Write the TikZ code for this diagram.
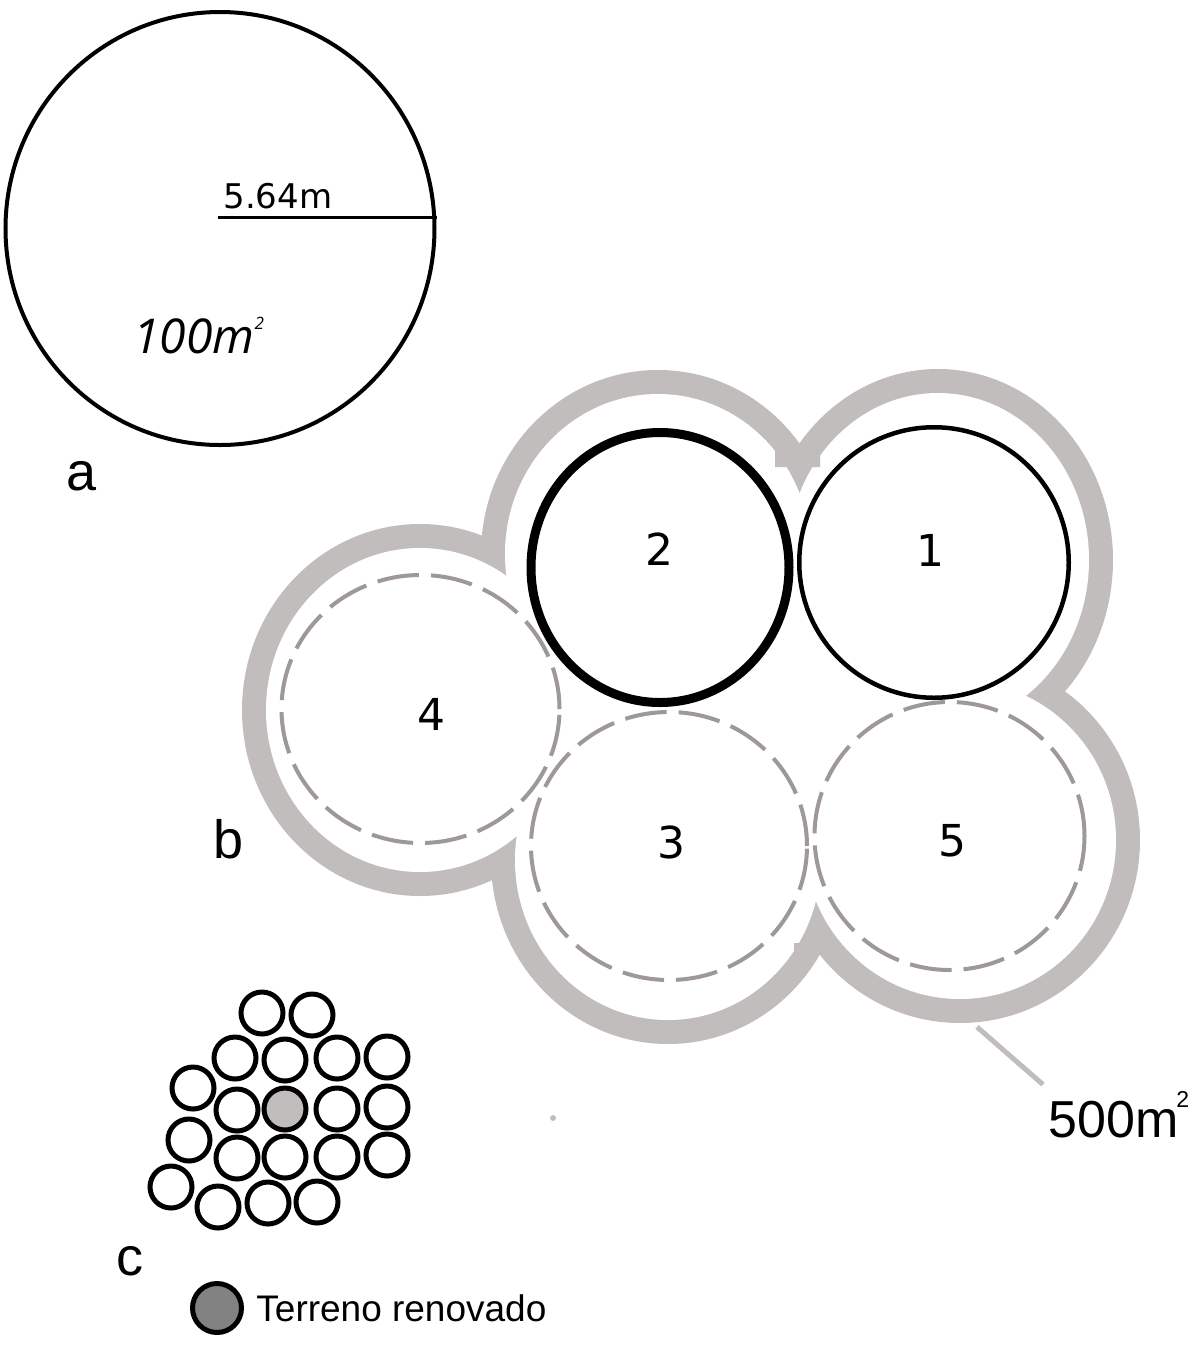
\documentclass[tikz,border=0pt]{standalone}
\usepackage{fontspec}
\setmainfont{Liberation Sans}
\newfontfamily\numfont{DejaVu Sans}
\newfontfamily\areafont{Open Sans}
\usepackage{xcolor}
\definecolor{ringgrey}{RGB}{193,189,189}
\definecolor{dashgrey}{RGB}{158,152,152}
\definecolor{newgrey}{RGB}{130,130,130}
\usepackage{tikz}
\usetikzlibrary{shapes.geometric, positioning}
\tikzset{
  plot/.style={
    ellipse, draw=black, inner sep=0pt
  },
  future/.style={
    ellipse, draw=dashgrey, line width=2pt,
    dash pattern=on 21pt off 6pt, inner sep=0pt
  },
  lot/.style={
    circle, draw=black, line width=2.5pt, fill=white,
    minimum size=21pt, inner sep=0pt
  },
  num/.style={font=\numfont\fontsize{22}{22}\selectfont, inner sep=0pt},
  tag/.style={anchor=base west, inner sep=0pt, font=\fontsize{27}{27}\selectfont},
  leader/.style={draw=ringgrey, line width=2.5pt},
}

\begin{document}
\begin{tikzpicture}[x=0.5pt, y=-0.5pt]
  \useasboundingbox (0,0) rectangle (1204,1346);

  % a
  \node (big) [plot, line width=2pt, minimum width=214.5pt, minimum height=216.5pt] at (220,228.5) {};
  \coordinate (mid) at (218,217);
  \draw [line width=1.5pt] (mid) -- (mid -| big.east);
  \node (radius) [anchor=base west, inner sep=0pt, font=\numfont\fontsize{17}{17}\selectfont] at (223,208) {5.64m};
  \node (small) [anchor=base west, inner sep=0pt, font=\areafont\itshape\fontsize{24}{24}\selectfont] at (133,353)
    {100m\raisebox{12pt}{\fontsize{8.5}{8.5}\selectfont 2}};
  \node (la) [tag] at (66,490) {a};

  % b
  \foreach \cx/\cy/\rx/\ry in {658/554/165/172, 938/560/163/179, 960/840/168/171, 668/860/165/172, 420/710/166/174}
    \fill [ringgrey] (\cx,\cy) ellipse [x radius={(\rx+12)*0.5pt}, y radius={(\ry+12)*0.5pt}];
  \foreach \cx/\cy/\rx/\ry in {658/554/165/172, 938/560/163/179, 960/840/168/171, 668/860/165/172, 420/710/166/174}
    \fill [white] (\cx,\cy) ellipse [x radius={(\rx-12)*0.5pt}, y radius={(\ry-12)*0.5pt}];
  \fill [white] (658,554) -- (938,560) -- (960,840) -- (668,860) -- (420,710) -- cycle;
  \fill [ringgrey] (775,440) -- (797,446) -- (820,440) -- (820,467) -- (775,467) -- cycle;
  \fill [ringgrey] (794,970) -- (820,952) -- (838,958) -- (838,943) -- (794,943) -- cycle;

  \node (p4) [future, minimum width=139pt, minimum height=134pt] at (420.5,709) {};
  \node (p3) [future, minimum width=138pt, minimum height=134pt] at (669,846) {};
  \node (p5) [future, minimum width=135pt, minimum height=134pt] at (949.5,836) {};
  \node (p2) [plot, line width=4.5pt, minimum width=129pt, minimum height=135pt] at (660,567.5) {};
  \node (p1) [plot, line width=2.25pt, minimum width=134.75pt, minimum height=135.25pt] at (934,562.5) {};

  \node (n1) [num] at (930,550) {1};
  \node (n2) [num] at (659,549) {2};
  \node (n3) [num] at (671,842) {3};
  \node (n4) [num] at (431,714) {4};
  \node (n5) [num] at (952,841) {5};
  \node (lb) [tag] at (213,858) {b};

  \coordinate (edge) at (977,1027);
  \node (area) [anchor=base west, inner sep=0pt, font=\fontsize{26}{26}\selectfont] at (1048,1137)
    {500m\kern-1pt\raisebox{15pt}{\fontsize{11.5}{11.5}\selectfont 2}};
  \draw [leader] (edge) -- ([shift={(-5,-6)}]area.north west);
  \fill [ringgrey] (553,1118) circle [radius=1.5pt];

  % c
  \foreach \x/\y [count=\i] in {262/1013, 312/1015, 235/1058, 285/1060, 337/1058, 387/1057,
      193/1088, 237/1110, 337/1109, 387/1107, 189/1140, 237/1158, 285/1157, 337/1157,
      387/1155, 171/1187, 218/1207, 268/1203, 317/1202}
    \node (lot\i) [lot] at (\x,\y) {};
  \node (renewed) [lot, fill=ringgrey] at (285,1109) {};
  \node (lc) [tag] at (116,1275) {c};

  \node (key) [circle, draw=black, line width=2.5pt, fill=newgrey, minimum size=24.5pt, inner sep=0pt] at (217,1308) {};
  \node (keytext) [right=6pt of key, inner sep=0pt, font=\fontsize{18.5}{18.5}\selectfont] {Terreno renovado};
\end{tikzpicture}
\end{document}
